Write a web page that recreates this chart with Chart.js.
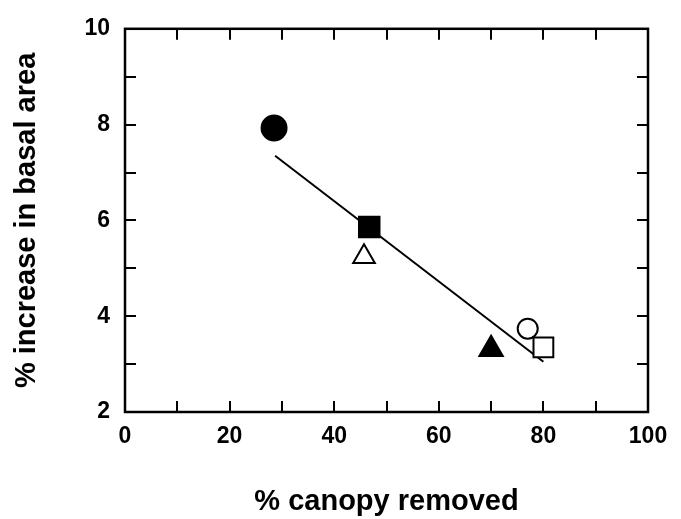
<!DOCTYPE html>
<html>
<head>
<meta charset="utf-8">
<script src="https://cdn.jsdelivr.net/npm/chart.js@4/dist/chart.umd.min.js"></script>
<style>
  html, body { margin: 0; padding: 0; background: #fff; }
  #wrap { width: 681px; height: 519px; }
</style>
</head>
<body>
<div id="wrap"><canvas id="basalChart" width="681" height="519"></canvas></div>
<script>
// basal area response vs canopy removal

const canopyRemoved = [28.5, 46.7, 45.7, 70, 77, 80];      // % canopy removed
const basalIncrease = [7.93, 5.86, 5.24, 3.31, 3.74, 3.35]; // % increase in basal area
const fitX = [28.7, 80];    // regression line ends
const fitY = [7.35, 3.05];
const xTickLabels = [0, 20, 40, 60, 80, 100];
const yTickLabels = [2, 4, 6, 8, 10];

const fontFamily = '"Liberation Sans", Arial, Helvetica, sans-serif';

// frame + inward tick marks on all four sides
const frameTicks = {
  id: 'frameTicks',
  beforeDatasetsDraw(chart) {
    const { ctx, chartArea: a, scales } = chart;
    const len = 11;
    ctx.save();
    ctx.strokeStyle = '#000';
    ctx.lineWidth = 2;
    ctx.beginPath();
    scales.x.ticks.forEach(t => {
      if (t.value <= scales.x.min || t.value >= scales.x.max) return;
      const px = Math.round(scales.x.getPixelForValue(t.value));
      ctx.moveTo(px, a.bottom); ctx.lineTo(px, a.bottom - len);
      ctx.moveTo(px, a.top); ctx.lineTo(px, a.top + len);
    });
    scales.y.ticks.forEach(t => {
      if (t.value <= scales.y.min || t.value >= scales.y.max) return;
      const py = Math.round(scales.y.getPixelForValue(t.value));
      ctx.moveTo(a.left, py); ctx.lineTo(a.left + len, py);
      ctx.moveTo(a.right, py); ctx.lineTo(a.right - len, py);
    });
    ctx.stroke();
    ctx.lineWidth = 2.5;
    ctx.strokeRect(a.left, a.top, a.right - a.left, a.bottom - a.top);
    ctx.restore();
  }
};

const ctx = document.getElementById('basalChart').getContext('2d');

new Chart(ctx, {
  type: 'scatter',
  data: {
    datasets: [
      {
        label: 'sites',
        data: canopyRemoved.map((x, i) => ({ x: x, y: basalIncrease[i] })),
        pointStyle: ['circle', 'rect', 'triangle', 'triangle', 'circle', 'rect'],
        pointRadius: [12.5, 14.5, 12.5, 13.5, 10, 14],
        pointBackgroundColor: ['#000', '#000', '#fff', '#000', '#fff', '#fff'],
        pointBorderColor: '#000',
        pointBorderWidth: 2,
        order: 1
      },
      {
        type: 'line',
        label: 'fit',
        data: fitX.map((x, i) => ({ x: x, y: fitY[i] })),
        borderColor: '#000',
        borderWidth: 2,
        pointRadius: 0,
        fill: false,
        order: 2
      }
    ]
  },
  options: {
    responsive: false,
    animation: false,
    layout: { padding: { top: 22, right: 33, left: 0, bottom: 0 } },
    plugins: {
      legend: { display: false },
      tooltip: { enabled: false }
    },
    scales: {
      x: {
        type: 'linear',
        min: 0,
        max: 100,
        grid: { display: false, drawTicks: false },
        border: { display: false },
        afterFit: s => { s.height = 107; },
        ticks: {
          stepSize: 10,
          padding: 11,
          color: '#000',
          font: { family: fontFamily, size: 23, weight: 'bold' },
          callback: v => xTickLabels.includes(v) ? v : ''
        },
        title: {
          display: true,
          text: '% canopy removed',
          color: '#000',
          padding: { top: 0, bottom: 0 },
          font: { family: fontFamily, size: 29, weight: 'bold' }
        }
      },
      y: {
        type: 'linear',
        min: 2,
        max: 10,
        grid: { display: false, drawTicks: false },
        border: { display: false },
        afterFit: s => { s.width = 125; },
        ticks: {
          stepSize: 1,
          padding: 15,
          color: '#000',
          font: { family: fontFamily, size: 23, weight: 'bold' },
          callback: v => yTickLabels.includes(v) ? v : ''
        },
        title: {
          display: true,
          text: '% increase in basal area',
          color: '#000',
          padding: { top: 10, bottom: 0 },
          font: { family: fontFamily, size: 29, weight: 'bold' }
        }
      }
    }
  },
  plugins: [frameTicks]
});
</script>
</body>
</html>
